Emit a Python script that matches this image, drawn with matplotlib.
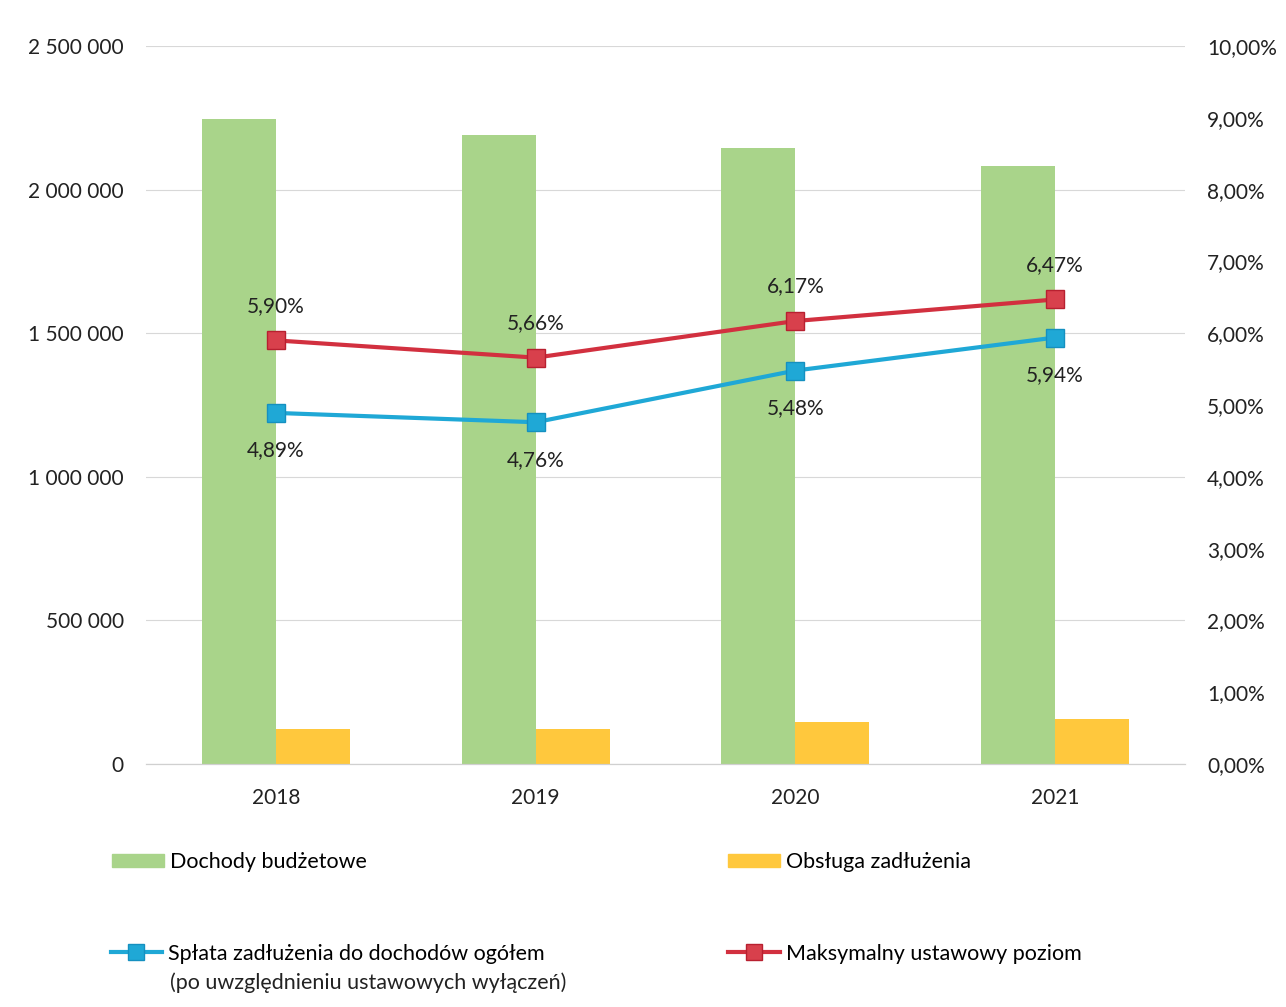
import numpy as np
import matplotlib.pyplot as plt
from matplotlib.lines import Line2D
from matplotlib.patches import Patch

plt.rcParams['font.family'] = ['Lato', 'DejaVu Sans']

# data
years = ['2018', '2019', '2020', '2021']
dochody = [2246000, 2190000, 2145000, 2082000]      # Dochody budżetowe
obsluga = [122000, 123000, 146000, 157000]          # Obsługa zadłużenia
splata = [4.89, 4.76, 5.48, 5.94]                   # % spłata do dochodów
maks = [5.90, 5.66, 6.17, 6.47]                     # % maksymalny poziom

green = '#a9d48a'
yellow = '#ffc83d'
blue = '#1fa8d6'
red = '#d2303f'

fig = plt.figure(figsize=(12.86, 10.07), dpi=100)
ax = fig.add_axes([0.1135, 0.2413, 0.808, 0.713])
ax2 = ax.twinx()

x = np.arange(len(years))
w = 0.285
ax.bar(x - w / 2, dochody, w, color=green, zorder=2)
ax.bar(x + w / 2, obsluga, w, color=yellow, zorder=2)

ax.set_ylim(0, 2500000)
ax.set_yticks(np.arange(0, 2500001, 500000))
ax.set_yticklabels([f'{v:,.0f}'.replace(',', ' ') for v in ax.get_yticks()])
ax.set_xlim(-0.5, 3.5)
ax.set_xticks(x)
ax.set_xticklabels(years)
ax.grid(axis='y', color='#d8d8d8', linewidth=0.8, zorder=0)
ax.set_axisbelow(True)

ax2.plot(x, splata, color=blue, lw=3, marker='s', ms=13, mfc=blue, mec='#1590c0', zorder=5)
ax2.plot(x, maks, color=red, lw=3, marker='s', ms=13, mfc='#d8404c', mec='#b82030', zorder=5)
ax2.set_ylim(0, 10)
ax2.set_yticks(np.arange(0, 11, 1))
ax2.set_yticklabels([f'{v:.2f}%'.replace('.', ',') for v in ax2.get_yticks()])

for xi, v in zip(x, maks):
    ax2.annotate(f'{v:.2f}%'.replace('.', ','), (xi, v), xytext=(0, 25), textcoords='offset points',
                 ha='center', va='center', fontsize=15, color='#222222')
for xi, v in zip(x, splata):
    ax2.annotate(f'{v:.2f}%'.replace('.', ','), (xi, v), xytext=(0, -27), textcoords='offset points',
                 ha='center', va='center', fontsize=15, color='#222222')

for a in (ax, ax2):
    for s in ['top', 'left', 'right']:
        a.spines[s].set_visible(False)
    a.spines['bottom'].set_color('#d0d0d0')
    a.tick_params(length=0, labelsize=15, colors='#222222')
ax.tick_params(axis='y', pad=16)
ax.tick_params(axis='x', pad=17)
ax2.tick_params(axis='y', pad=16)

# legend, one entry per block
legend_items = [
    (Patch(color=green), 'Dochody budżetowe', (0.087, 0.144)),
    (Patch(color=yellow), 'Obsługa zadłużenia', (0.566, 0.144)),
    (Line2D([], [], color=blue, lw=3, marker='s', ms=11, mfc=blue, mec='#1590c0'),
     'Spłata zadłużenia do dochodów ogółem', (0.086, 0.053)),
    (Line2D([], [], color=red, lw=3, marker='s', ms=11, mfc='#d8404c', mec='#b82030'),
     'Maksymalny ustawowy poziom', (0.566, 0.053)),
]
for h, lab, pos in legend_items:
    fig.legend([h], [lab], loc='center left', bbox_to_anchor=pos, frameon=False,
               fontsize=15.5, handlelength=2.4, handleheight=0.6, handletextpad=0.28,
               borderaxespad=0, borderpad=0)
fig.text(0.1325, 0.024, '(po uwzględnieniu ustawowych wyłączeń)', fontsize=15.5,
         ha='left', va='center', color='#222222')

fig.savefig('out.png', dpi=100)
